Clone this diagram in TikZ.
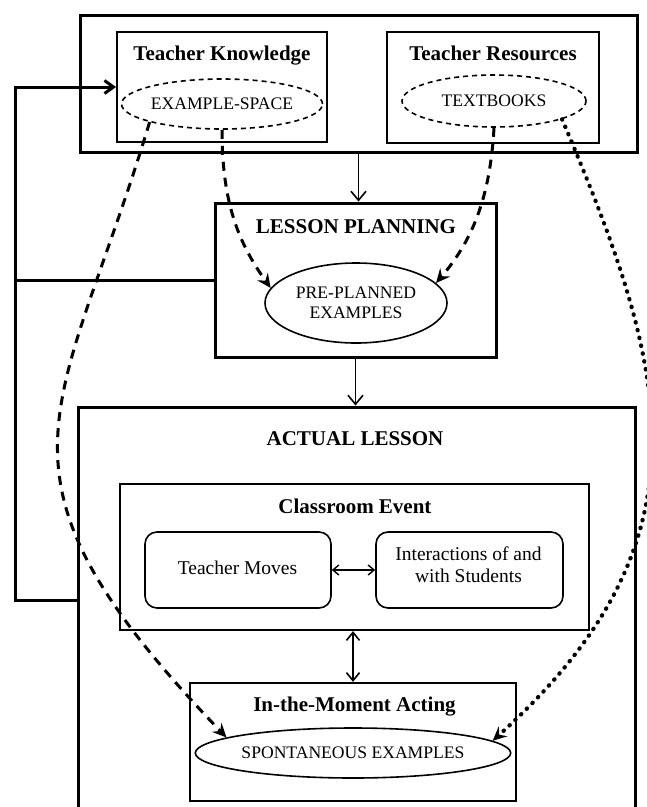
\documentclass[tikz,border=0pt]{standalone}
\usepackage{fontspec}
\setmainfont{Liberation Serif}
\usetikzlibrary{shapes.geometric,arrows.meta,calc}
\begin{document}
\begin{tikzpicture}[x=1pt,y=-1pt,
  thickbox/.style={draw, line width=3pt, rectangle, inner sep=0pt},
  thinbox/.style={draw, line width=1.9pt, rectangle, inner sep=0pt},
  roundbox/.style={draw, line width=1.6pt, rectangle, rounded corners=12pt, inner sep=0pt},
  head/.style={font=\fontsize{21}{24}\selectfont\bfseries, inner sep=0pt, anchor=base},
  body/.style={font=\fontsize{19.5}{22}\selectfont, inner sep=0pt, align=center},
  dashell/.style={ellipse, draw, line width=1.6pt, dash pattern=on 5pt off 4pt, inner sep=0pt, font=\fontsize{17.6}{20}\selectfont},
  ell/.style={ellipse, draw, line width=1.6pt, inner sep=0pt, align=center, font=\fontsize{17.6}{20}\selectfont},
  flow/.style={line width=1.6pt, -{Straight Barb[length=9pt,width=15pt]}},
  twoway/.style={line width=1.6pt, {Straight Barb[length=8pt,width=13pt]}-{Straight Barb[length=8pt,width=13pt]}},
  smalltwoway/.style={line width=1.4pt, {Straight Barb[length=6pt,width=10pt]}-{Straight Barb[length=6pt,width=10pt]}},
  link/.style={line width=3pt},
  dashcurve/.style={line width=3pt, dash pattern=on 9pt off 7pt, -{Stealth[length=14pt,width=13pt,inset=5pt]}},
  dotcurve/.style={line width=4.2pt, line cap=round, dash pattern=on 0.5pt off 7.5pt, -{Stealth[length=14pt,width=13pt,inset=5pt]}}
]
\useasboundingbox[fill=white] (0,0) rectangle (647,807);

% top block
\node[thickbox, minimum width=557pt, minimum height=137pt] (TOP) at (358.5,83.5) {};
\node[thinbox, minimum width=210pt, minimum height=110pt] (TK) at (222,87) {};
\node[head] (TKt) at (222,60) {Teacher Knowledge};
\node[dashell, minimum width=182pt, minimum height=50pt] (ES) at (222,104) {EXAMPLE-SPACE};
\node[thinbox, minimum width=212pt, minimum height=111pt] (TR) at (493,87.5) {};
\node[head] (TRt) at (493,60) {Teacher Resources};
\node[dashell, minimum width=184pt, minimum height=52pt] (TB) at (494,101) {TEXTBOOKS};

% lesson planning
\node[thickbox, minimum width=281pt, minimum height=154pt] (LP) at (355.5,280) {};
\node[head] (LPt) at (356,233) {LESSON PLANNING};
\node[ell, minimum width=182pt, minimum height=80pt] (PP) at (356,303) {PRE-PLANNED\\EXAMPLES};

% actual lesson
\node[thickbox, minimum width=557pt, minimum height=423pt] (AL) at (356.5,618.5) {};
\node[head] (ALt) at (355,445) {ACTUAL LESSON};
\node[thinbox, line width=2.2pt, minimum width=469pt, minimum height=146pt] (CE) at (354.5,557) {};
\node[head] (CEt) at (355,513) {Classroom Event};
\node[roundbox, minimum width=186pt, minimum height=76pt] (TM) at (238,570) {};
\node[body, anchor=base] (TMt) at (237.5,574) {Teacher Moves};
\node[roundbox, minimum width=187pt, minimum height=76pt] (IS) at (469.5,570) {};
\node[body] (ISt) at (468.5,564.4) {Interactions of and\\with Students};
\node[thinbox, line width=2.2pt, minimum width=326pt, minimum height=118pt] (IM) at (353,742) {};
\node[head] (IMt) at (354.5,711) {In-the-Moment Acting};
\node[ell, minimum width=283pt, minimum height=50pt] (SE) at (353,753) {SPONTANEOUS EXAMPLES};

% flow arrows
\draw[flow] (TOP.south) -- (TOP.south |- LP.north);
\draw[flow] (LP.south) -- (LP.south |- AL.north);
\draw[smalltwoway] (TM.east) -- (IS.west);
\draw[twoway] (CE.south -| IM.north) -- (IM.north);

% feedback loop
\coordinate (fb) at (15,600);
\draw[link, -{Straight Barb[length=9pt,width=13pt]}] (AL.west |- fb) -- (fb) |- (TK.west);
\draw[link] (fb |- LP.west) -- (LP.west);

% example routes
\draw[dashcurve] (ES.194) .. controls (60,420) and (-30,470) .. (SE.173);
\draw[dashcurve] (ES.south) .. controls (222,200) and (237,241) .. (PP.170);
\draw[dashcurve] (TB.south) .. controls (490,200) and (471,242) .. (PP.14);
\draw[dotcurve] (TB.-15) .. controls (669,370) and (716,540) .. (SE.5);
\end{tikzpicture}
\end{document}
